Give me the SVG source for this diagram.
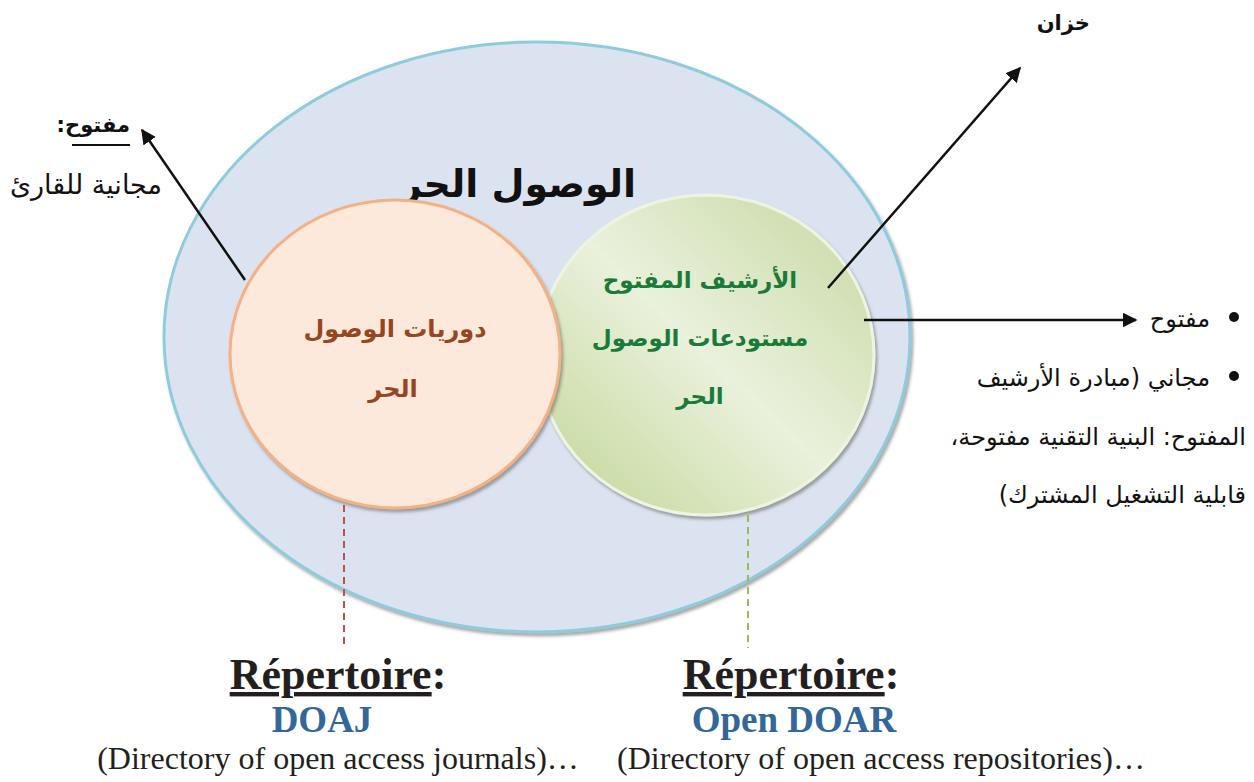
<svg xmlns="http://www.w3.org/2000/svg" width="1254" height="782" viewBox="0 0 1254 782">
<defs>
<style>
.ar{font-family:"DejaVu Sans","Noto Sans",sans-serif;}
.arb{font-family:"DejaVu Sans","Noto Sans",sans-serif;font-weight:bold;}
.serif{font-family:"Liberation Serif","Times New Roman",serif;}
.conn{stroke:#111;stroke-width:2.5;fill:none;}
</style>
<marker id="ah" viewBox="0 0 10 10" refX="9" refY="5" markerWidth="6" markerHeight="6" orient="auto" markerUnits="strokeWidth">
<path d="M0,0 L10,5 L0,10 z" fill="#111"/>
</marker>
<linearGradient id="gg" x1="0.1" y1="0.9" x2="0.9" y2="0.1">
<stop offset="0" stop-color="#c8daa2"/>
<stop offset="0.5" stop-color="#eaf1dc"/>
<stop offset="1" stop-color="#cddcac"/>
</linearGradient>
<filter id="sh" x="-10%" y="-10%" width="120%" height="120%">
<feDropShadow dx="2" dy="3" stdDeviation="1.5" flood-color="#555" flood-opacity="0.5"/>
</filter>
</defs>
<rect width="1254" height="782" fill="#fff"/>

<g id="outer">
<ellipse cx="537" cy="337" rx="373" ry="295" fill="#dce3f0" stroke="#8ecbdc" stroke-width="3" filter="url(#sh)"/>
<text class="arb" x="518" y="197" font-size="38" text-anchor="middle" fill="#111">الوصول الحر</text>
</g>

<g id="archive">
<ellipse cx="706" cy="355" rx="168" ry="160" fill="url(#gg)" stroke="#eef4e2" stroke-width="3" filter="url(#sh)"/>
<text class="arb" x="700" y="288" font-size="23" text-anchor="middle" fill="#1a7a3a">الأرشيف المفتوح</text>
<text class="arb" x="700" y="346" font-size="23" text-anchor="middle" fill="#1a7a3a">مستودعات الوصول</text>
<text class="arb" x="700" y="404" font-size="23" text-anchor="middle" fill="#1a7a3a">الحر</text>
</g>

<g id="journals">
<ellipse cx="395" cy="354" rx="165" ry="154" fill="#fde9dc" stroke="#f4b183" stroke-width="3" filter="url(#sh)"/>
<text class="arb" x="395" y="337" font-size="24" text-anchor="middle" fill="#98461f">دوريات الوصول</text>
<text class="arb" x="393" y="397" font-size="24" text-anchor="middle" fill="#98461f">الحر</text>
</g>

<g id="connectors">
<line class="conn" x1="245" y1="280" x2="142" y2="130" marker-end="url(#ah)"/>
<line class="conn" x1="828" y1="288" x2="1020" y2="68" marker-end="url(#ah)"/>
<line class="conn" x1="864" y1="320" x2="1136" y2="320" marker-end="url(#ah)"/>
<line x1="344" y1="505" x2="344" y2="648" stroke="#c0504d" stroke-width="2" stroke-dasharray="7,5"/>
<line x1="748" y1="515" x2="748" y2="648" stroke="#9bbb59" stroke-width="2" stroke-dasharray="7,5"/>
</g>

<g id="left-label">
<text class="arb" x="130" y="132" font-size="21" direction="rtl" text-anchor="start" fill="#111">مفتوح:</text>
<line x1="72" y1="145" x2="130" y2="145" stroke="#111" stroke-width="2"/>
<text class="ar" x="162" y="194" font-size="27" direction="rtl" text-anchor="start" fill="#111">مجانية للقارئ</text>
</g>

<g id="top-label">
<text class="arb" x="1090" y="30" font-size="21" direction="rtl" text-anchor="start" fill="#111">خزان</text>
</g>

<g id="right-label">
<circle cx="1234" cy="317" r="5" fill="#111"/>
<text class="ar" x="1210" y="327" font-size="24" direction="rtl" text-anchor="start" fill="#111">مفتوح</text>
<circle cx="1234" cy="376" r="5" fill="#111"/>
<text class="ar" x="1210" y="386" font-size="24" direction="rtl" text-anchor="start" fill="#111">مجاني (مبادرة الأرشيف</text>
<text class="ar" x="1246" y="445" font-size="24" direction="rtl" text-anchor="start" fill="#111">المفتوح: البنية التقنية مفتوحة،</text>
<text class="ar" x="1246" y="503" font-size="24" direction="rtl" text-anchor="start" fill="#111">قابلية التشغيل المشترك)</text>
</g>

<g id="doaj">
<text class="serif" x="338" y="689" font-size="44" font-weight="bold" text-anchor="middle" fill="#231f20"><tspan text-decoration="underline">Répertoire</tspan>:</text>
<text class="serif" x="322" y="732" font-size="37" font-weight="bold" text-anchor="middle" fill="#336699">DOAJ</text>
<text class="serif" x="338" y="769" font-size="32" text-anchor="middle" fill="#231f20">(Directory of open access journals)…</text>
</g>

<g id="opendoar">
<text class="serif" x="791" y="689" font-size="44" font-weight="bold" text-anchor="middle" fill="#231f20"><tspan text-decoration="underline">Répertoire</tspan>:</text>
<text class="serif" x="794" y="732" font-size="37" font-weight="bold" text-anchor="middle" fill="#336699">Open DOAR</text>
<text class="serif" x="881" y="769" font-size="32" text-anchor="middle" fill="#231f20">(Directory of open access repositories)…</text>
</g>
</svg>
